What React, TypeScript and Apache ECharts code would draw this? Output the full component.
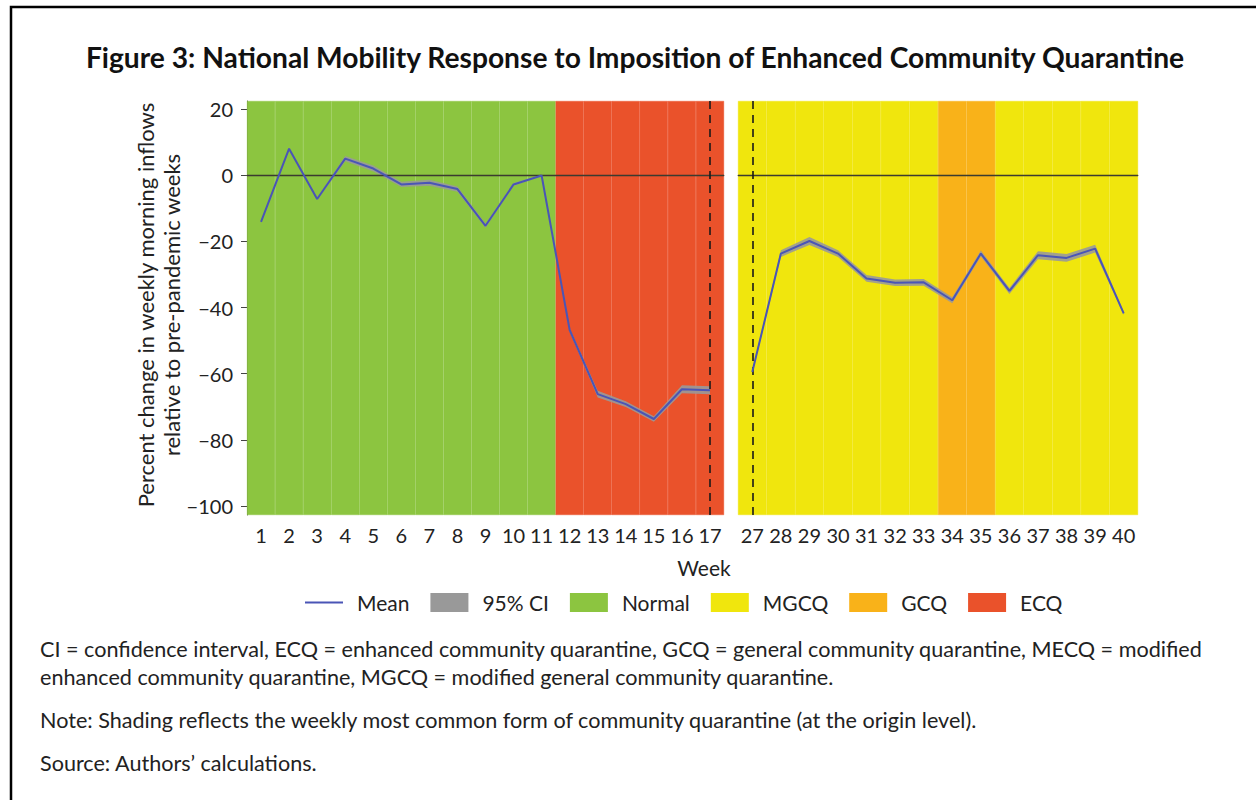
import React, { useEffect, useRef } from "react";
import * as echarts from "echarts";

const weeksLeft = ["1","2","3","4","5","6","7","8","9","10","11","12","13","14","15","16","17"];
const meanLeft = [-14.1, 8.0, -7.2, 5.0, 2.0, -2.8, -2.3, -4.2, -15.3, -2.8, -0.1, -46.8, -66.2, -69.2, -73.7, -64.7, -65.0];
const ciLowLeft = [-14.4, 7.7, -7.5, 4.2, 1.1, -3.6, -3.2, -5.0, -15.9, -3.2, -0.3, -47.3, -67.2, -70.1, -74.5, -65.9, -66.2];
const ciHighLeft = [-13.8, 8.3, -6.9, 5.8, 2.9, -2.0, -1.4, -3.4, -14.7, -2.4, 0.1, -46.3, -65.2, -68.3, -72.9, -63.5, -63.8];
const phaseLeft = ["Normal","Normal","Normal","Normal","Normal","Normal","Normal","Normal","Normal","Normal","Normal","ECQ","ECQ","ECQ","ECQ","ECQ","ECQ"];

const weeksRight = ["27","28","29","30","31","32","33","34","35","36","37","38","39","40"];
const meanRight = [-59.5, -23.7, -19.9, -23.7, -31.2, -32.5, -32.4, -37.8, -23.7, -35.0, -24.2, -25.0, -22.2, -41.8];
const ciLowRight = [-60.0, -24.7, -21.1, -24.7, -32.2, -33.5, -33.4, -38.7, -24.6, -35.9, -25.4, -26.2, -23.4, -42.3];
const ciHighRight = [-59.0, -22.7, -18.7, -22.7, -30.2, -31.5, -31.4, -36.9, -22.8, -34.1, -23.0, -23.8, -21.0, -41.3];
const phaseRight = ["MGCQ","MGCQ","MGCQ","MGCQ","MGCQ","MGCQ","MGCQ","GCQ","GCQ","MGCQ","MGCQ","MGCQ","MGCQ","MGCQ"];

const yTicks = { min: -100, max: 20, interval: 20 };
const plotRange = { min: -102.72, max: 22.42 };
const dashedWeeks = { left: "17", right: "27" };

const phaseNames = ["Normal", "MGCQ", "GCQ", "ECQ"];
const phaseColors: Record<string, string> = {
  Normal: "#8cc540",
  MGCQ: "#f0e60d",
  GCQ: "#f9b219",
  ECQ: "#ea522b",
};

const titleText = "Figure 3: National Mobility Response to Imposition of Enhanced Community Quarantine";
const yTitle = "Percent change in weekly morning inflows\nrelative to pre-pandemic weeks";
const xTitle = "Week";
const notes = [
  "CI = confidence interval, ECQ = enhanced community quarantine, GCQ = general community quarantine, MECQ = modified",
  "enhanced community quarantine, MGCQ = modified general community quarantine.",
  "Note: Shading reflects the weekly most common form of community quarantine (at the origin level).",
  "Source: Authors\u2019 calculations.",
];

const FONT = "Lato";
const MEAN_COLOR = "#4a55b6";
const CI_COLOR = "#999999";

function panelSeries(
  idx: number,
  weeks: string[],
  mean: number[],
  low: number[],
  high: number[],
  phases: string[],
  dashWeek: string
) {
  const out: any[] = [];
  phaseNames.forEach((p) => {
    if (!phases.includes(p)) return;
    [plotRange.max, plotRange.min].forEach((v) => {
      out.push({
        name: p,
        type: "bar",
        xAxisIndex: idx,
        yAxisIndex: idx,
        data: phases.map((ph) => (ph === p ? v : "-")),
        barWidth: "100%",
        barGap: "-100%",
        barCategoryGap: "0%",
        silent: true,
        z: 1,
        itemStyle: {
          color: phaseColors[p],
          borderColor: phaseColors[p],
          borderWidth: 0.4,
        },
      });
    });
  });
  out.push({
    name: "ciBase" + idx,
    type: "line",
    xAxisIndex: idx,
    yAxisIndex: idx,
    data: low,
    stack: "ci" + idx,
    stackStrategy: "all",
    symbol: "none",
    silent: true,
    lineStyle: { opacity: 0 },
    z: 3,
  });
  out.push({
    name: "95% CI",
    type: "line",
    xAxisIndex: idx,
    yAxisIndex: idx,
    data: high.map((h, i) => h - low[i]),
    stack: "ci" + idx,
    stackStrategy: "all",
    symbol: "none",
    silent: true,
    color: CI_COLOR,
    lineStyle: { opacity: 0 },
    areaStyle: { color: CI_COLOR, opacity: 0.9 },
    z: 3,
  });
  out.push({
    name: "Mean",
    type: "line",
    xAxisIndex: idx,
    yAxisIndex: idx,
    data: mean,
    symbol: "none",
    color: MEAN_COLOR,
    lineStyle: { color: MEAN_COLOR, width: 2 },
    z: 5,
    markLine: {
      silent: true,
      symbol: ["none", "none"],
      label: { show: false },
      animation: false,
      data: [
        { yAxis: 0, lineStyle: { color: "#3b3b30", width: 1.3, type: "solid" } },
        { xAxis: weeks.indexOf(dashWeek), lineStyle: { color: "#1a1a1a", width: 1.6, type: [8, 6] } },
      ],
    },
  });
  return out;
}

const minusFmt = (v: any) => String(v).replace("-", "\u2212");

function xAxisFor(idx: number, weeks: string[]) {
  return {
    type: "category",
    gridIndex: idx,
    data: weeks,
    boundaryGap: true,
    axisLine: { show: true, lineStyle: { color: "#555", width: 1 } },
    axisTick: { show: true, alignWithLabel: true, interval: 0, length: 6, lineStyle: { color: "#444" } },
    axisLabel: { interval: 0, fontSize: 20, color: "#222", margin: 10, fontFamily: FONT },
    splitLine: { show: false },
  };
}

function dataYAxis(idx: number, showLine: boolean) {
  return {
    type: "value",
    gridIndex: idx,
    min: plotRange.min,
    max: plotRange.max,
    axisLine: { show: showLine, lineStyle: { color: "#555", width: 1 } },
    axisTick: { show: false },
    axisLabel: { show: false },
    splitLine: { show: false },
  };
}

export default function App() {
  const ref = useRef<HTMLDivElement>(null);
  useEffect(() => {
    if (!ref.current) return;
    const chart = echarts.init(ref.current, null, { renderer: "svg" });
    const option: any = {
      animation: false,
      backgroundColor: "#ffffff",
      textStyle: { fontFamily: FONT },
      grid: [
        { left: 247, top: 101, width: 477, height: 414 },
        { left: 738, top: 101, width: 400, height: 414 },
        { left: 247, top: 109, width: 477, height: 397 },
      ],
      xAxis: [
        xAxisFor(0, weeksLeft),
        xAxisFor(1, weeksRight),
        { type: "value", gridIndex: 2, min: 0, max: 1, show: false },
      ],
      yAxis: [
        dataYAxis(0, true),
        dataYAxis(1, false),
        {
          type: "value",
          gridIndex: 2,
          min: yTicks.min,
          max: yTicks.max,
          interval: yTicks.interval,
          axisLine: { show: false },
          axisTick: { show: true, length: 6, lineStyle: { color: "#444" } },
          axisLabel: { fontSize: 20, color: "#222", margin: 14, fontFamily: FONT, formatter: minusFmt },
          splitLine: { show: false },
        },
      ],
      legend: {
        left: 300,
        top: 587,
        itemWidth: 38,
        itemHeight: 19,
        itemGap: 21,
        selectedMode: false,
        symbolKeepAspect: true,
        textStyle: { fontSize: 21, color: "#222", fontFamily: FONT, padding: [0, 0, 0, 9] },
        itemStyle: { borderWidth: 0 },
        data: [
          { name: "Mean", icon: "path://M0,0L38,0L38,2L0,2Z", itemStyle: { color: MEAN_COLOR } },
          { name: "95% CI", icon: "rect", itemStyle: { color: CI_COLOR, opacity: 1 } },
          { name: "Normal", icon: "rect" },
          { name: "MGCQ", icon: "rect" },
          { name: "GCQ", icon: "rect" },
          { name: "ECQ", icon: "rect" },
        ],
      },
      graphic: [
        {
          type: "rect",
          shape: { x: 11, y: 7, width: 1300, height: 900 },
          style: { fill: "none", stroke: "#000", lineWidth: 2.5 },
          silent: true,
        },
        {
          type: "text",
          x: 635,
          y: 57,
          style: {
            text: titleText,
            textAlign: "center",
            textVerticalAlign: "middle",
            fontSize: 28.2,
            fontWeight: "bold",
            fontFamily: FONT,
            fill: "#111",
          },
        },
        {
          type: "text",
          x: 158,
          y: 305,
          rotation: Math.PI / 2,
          style: {
            text: yTitle,
            textAlign: "center",
            textVerticalAlign: "middle",
            fontSize: 22,
            lineHeight: 26,
            fontFamily: FONT,
            fill: "#222",
          },
        },
        {
          type: "text",
          x: 704,
          y: 567,
          style: {
            text: xTitle,
            textAlign: "center",
            textVerticalAlign: "middle",
            fontSize: 21,
            fontFamily: FONT,
            fill: "#222",
          },
        },
        ...notes.map((t, i) => ({
          type: "text",
          x: 40,
          y: [649, 677, 720, 763][i],
          style: {
            text: t,
            textAlign: "left",
            textVerticalAlign: "middle",
            fontSize: 21.6,
            fontFamily: FONT,
            fill: "#222",
          },
        })),
      ],
      series: [
        ...panelSeries(0, weeksLeft, meanLeft, ciLowLeft, ciHighLeft, phaseLeft, dashedWeeks.left),
        ...panelSeries(1, weeksRight, meanRight, ciLowRight, ciHighRight, phaseRight, dashedWeeks.right),
      ],
    };
    chart.setOption(option);
    return () => chart.dispose();
  }, []);
  return (
    <div
      ref={ref}
      style={{ position: "absolute", left: 0, top: 0, width: 1256, height: 800, background: "#fff" }}
    />
  );
}
